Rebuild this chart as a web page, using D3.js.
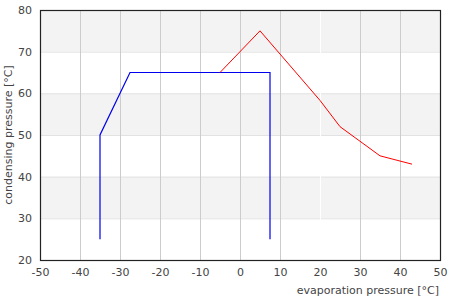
<!DOCTYPE html>
<html><head><meta charset="utf-8">
<script src="https://cdn.jsdelivr.net/npm/d3@7"></script>
<style>body{margin:0;background:#fff}svg{display:block}text{font-family:"DejaVu Sans",sans-serif;font-size:11px;fill:#444}</style>
</head><body>
<svg id="c" width="450" height="300"></svg>
<script>
const xTicks = [-50,-40,-30,-20,-10,0,10,20,30,40,50];
const yTicks = [20,30,40,50,60,70,80];
const blueX = [-35,-35,-27.5,7.5,7.5];
const blueY = [25,50,65,65,25];
const redX = [-5,5,20,25,35,43];
const redY = [65,75,58.3,52,45,43];
const xTitle = "evaporation pressure [°C]";
const yTitle = "condensing pressure [°C]";

const svg = d3.select("#c");
const m = {l:40, r:10, t:10, b:40};
const W = 450, H = 300;
const x = d3.scaleLinear().domain([-50,50]).range([m.l, W-m.r]);
const y = d3.scaleLinear().domain([20,80]).range([H-m.b, m.t]);

const bands = [[30,40],[50,60],[70,80]];
svg.selectAll("rect.band").data(bands).enter().append("rect")
  .attr("x", x(-50)).attr("width", x(50)-x(-50))
  .attr("y", d=>y(d[1])).attr("height", d=>y(d[0])-y(d[1]))
  .attr("fill", "#f3f3f3");
svg.selectAll("line.hg").data(yTicks.slice(1,-1)).enter().append("line")
  .attr("x1", x(-50)).attr("x2", x(50))
  .attr("y1", d=>y(d)+0.5).attr("y2", d=>y(d)+0.5)
  .attr("stroke", "#e2e2e2");
svg.selectAll("line.vg").data(xTicks.slice(1,-1)).enter().append("line")
  .attr("y1", y(80)).attr("y2", y(20))
  .attr("x1", d=>x(d)+0.5).attr("x2", d=>x(d)+0.5)
  .attr("stroke", d=> d===20 ? "#ffffff" : "#cccccc");

const line = d3.line().x(d=>x(d[0])).y(d=>y(d[1]));
svg.append("path").datum(blueX.map((v,i)=>[v,blueY[i]]))
  .attr("d", line).attr("fill","none").attr("stroke","#0000ee").attr("stroke-width",1.2);
svg.append("path").datum(redX.map((v,i)=>[v,redY[i]]))
  .attr("d", line).attr("fill","none").attr("stroke","#ff0000").attr("stroke-width",1);

svg.append("rect").attr("x", x(-50)+0.5).attr("y", y(80)+0.5)
  .attr("width", x(50)-x(-50)).attr("height", y(20)-y(80))
  .attr("fill","none").attr("stroke","#222").attr("stroke-width",1.2);

const xa = svg.append("g").attr("transform",`translate(0,${y(20)})`)
  .call(d3.axisBottom(x).tickValues(xTicks).tickFormat(d=>String(d)).tickSize(0).tickPadding(8));
const ya = svg.append("g").attr("transform",`translate(${x(-50)},0)`)
  .call(d3.axisLeft(y).tickValues(yTicks).tickFormat(d=>String(d)).tickSize(0).tickPadding(8));
[xa,ya].forEach(g=>{g.select(".domain").remove();g.selectAll("text").attr("font-family",null).attr("font-size",null).style("fill","#444");});

svg.append("text").attr("x", x(50)-1).attr("y", 294).attr("text-anchor","end").text(xTitle);
svg.append("text").attr("transform",`translate(12,${(y(20)+y(80))/2}) rotate(-90)`)
  .attr("text-anchor","middle").text(yTitle);
</script>
</body></html>
